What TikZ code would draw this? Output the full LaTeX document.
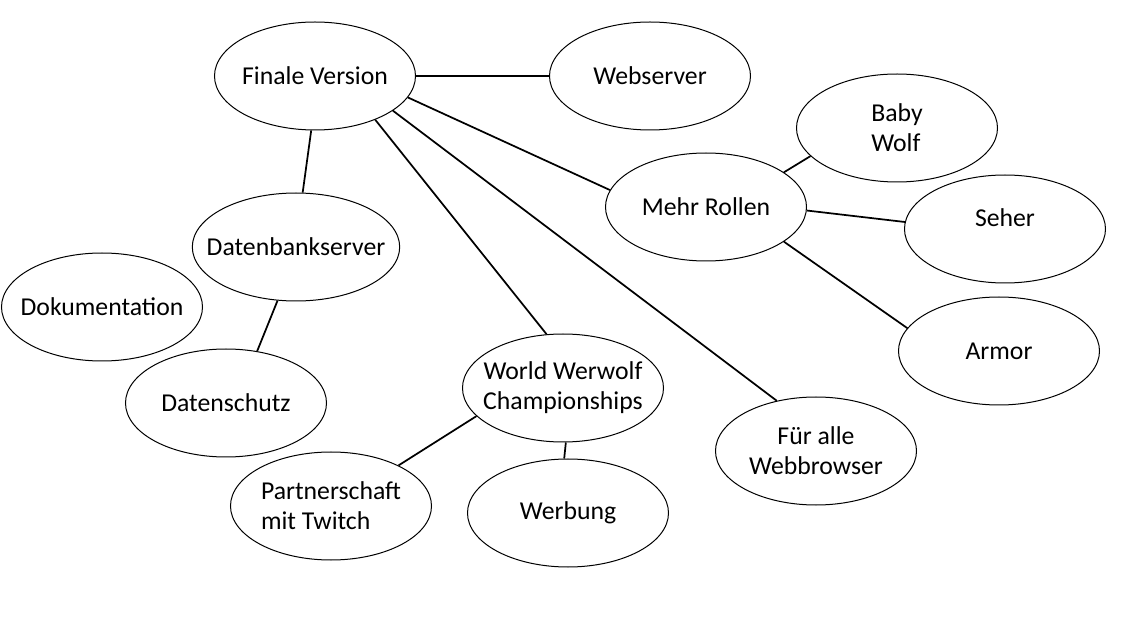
\documentclass[tikz,border=0pt]{standalone}
\usepackage{fontspec}
\setmainfont{Carlito}
\usetikzlibrary{positioning, shapes.geometric}

\tikzset{
  bubble/.style={ellipse, draw, line width=0.75pt, minimum width=150.75pt,
    minimum height=81pt, inner xsep=-12pt, inner ysep=0pt, align=center,
    font=\fontsize{19.3}{22.5}\selectfont},
  link/.style={line width=1.3pt}
}

\begin{document}
\begin{tikzpicture}[x=0.75pt, y=-0.75pt]
        \useasboundingbox (0,0) rectangle (1147,620);
        \node[bubble] (fin) at (315,76) {Finale Version};
        \node[bubble] (web) at (650,76) {Webserver};
        \node[bubble, align=left] (baby) at (897,128) {Baby\\Wolf};
        \node[bubble] (mehr) at (706,207) {Mehr Rollen};
        \node[bubble, text height=13pt, text depth=16.5pt] (seher) at (1005,229) {Seher};
        \node[bubble] (armor) at (999,351) {Armor};
        \node[bubble] (db) at (296,247) {Datenbankserver};
        \node[bubble] (doku) at (102,307) {Dokumentation};
        \node[bubble] (schutz) at (226,403) {Datenschutz};
        \node[bubble] (wwc) at (563,388) {World Werwolf\\Championships};
        \node[bubble] (browser) at (816,451) {Für alle\\Webbrowser};
        \node[bubble, align=left] (twitch) at (331,506) {Partnerschaft\\mit Twitch};
        \node[bubble] (werbung) at (568,513) {Werbung};
        \draw[link] (fin.0) -- (web.180);
        \draw[link] (fin.-13) -- (mehr.170);
        \draw[link] (fin.-24) -- (browser.128);
        \draw[link] (fin.-36) -- (wwc.107);
        \draw[link] (fin.-94) -- (db.83);
        \draw[link] (db.-109) -- (schutz.59);
        \draw[link] (mehr.24) -- (baby.-162);
        \draw[link] (mehr.-2) -- (seher.176);
        \draw[link] (mehr.-24) -- (armor.166);
        \draw[link] (wwc.-162) -- (twitch.31);
        \draw[link] (wwc.-87) -- (werbung.94);
    \end{tikzpicture}
\end{document}
